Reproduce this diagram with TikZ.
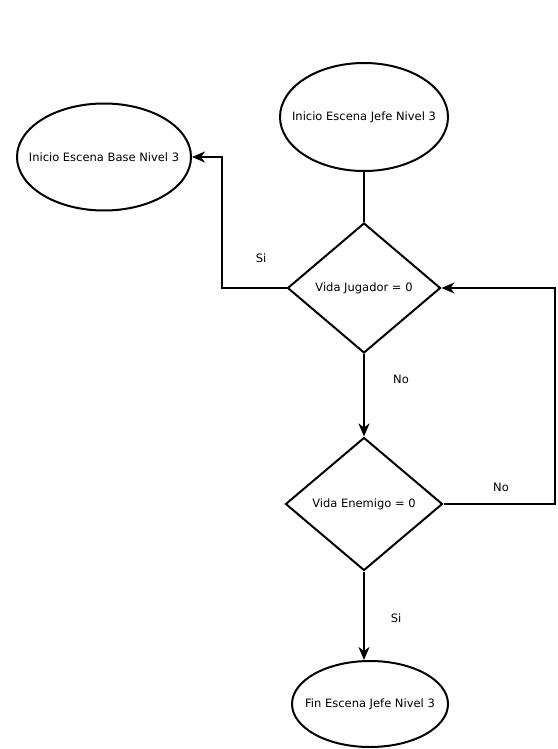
\documentclass[tikz,border=0pt]{standalone}
\usepackage{fontspec}
\setmainfont{DejaVu Sans}
\usetikzlibrary{shapes.geometric,arrows.meta}
\begin{document}
\begin{tikzpicture}[x=1pt,y=-1pt,
  line width=2pt,
  every node/.style={font=\fontsize{11.5}{13}\selectfont},
  term/.style={draw, ellipse, inner sep=0pt},
  decision/.style={draw, diamond, inner sep=0pt},
  flow/.style={-{Stealth[length=13pt,width=11pt,inset=4pt]}},
  lbl/.style={inner sep=0pt}]
\useasboundingbox (0,0) rectangle (557,749);
\fill[white] (0,0) rectangle (557,749);

% terminals (text placed as centred labels so the outline keeps its size)
\node[term, minimum width=168pt, minimum height=108pt,
      label=center:{Inicio Escena Jefe Nivel 3}] (start) at (364,117) {};
\node[term, minimum width=174pt, minimum height=107pt,
      label=center:{Inicio Escena Base Nivel 3}] (base) at (104,157) {};
\node[term, minimum width=156pt, minimum height=86pt,
      label=center:{Fin Escena Jefe Nivel 3}] (fin) at (370,704) {};

% decisions
\node[decision, minimum width=153pt, minimum height=130pt,
      label=center:{Vida Jugador = 0}] (dj) at (364,288) {};
\node[decision, minimum width=157pt, minimum height=133pt,
      label=center:{Vida Enemigo = 0}] (de) at (364,504) {};

\coordinate (jl) at (222,288);
\coordinate (ju) at (222,157);
\coordinate (eu) at (555,288);
\coordinate (er) at (de.east -| eu);

% connectors
\draw (start.south) -- (dj.north);
\draw[flow] (dj.west) -- (jl) -- (ju) -- (base.east);
\draw[flow] (dj.south) -- (de.north);
\draw[flow] (de.east) -- (er) -- (eu) -- (dj.east);
\draw[flow] (de.south) -- (fin.north -| de.south);

% branch labels
\node[lbl] (si1) at (261,258) {Si};
\node[lbl] (no1) at (401,379) {No};
\node[lbl] (no2) at (501,487) {No};
\node[lbl] (si2) at (396,618) {Si};
\end{tikzpicture}
\end{document}
